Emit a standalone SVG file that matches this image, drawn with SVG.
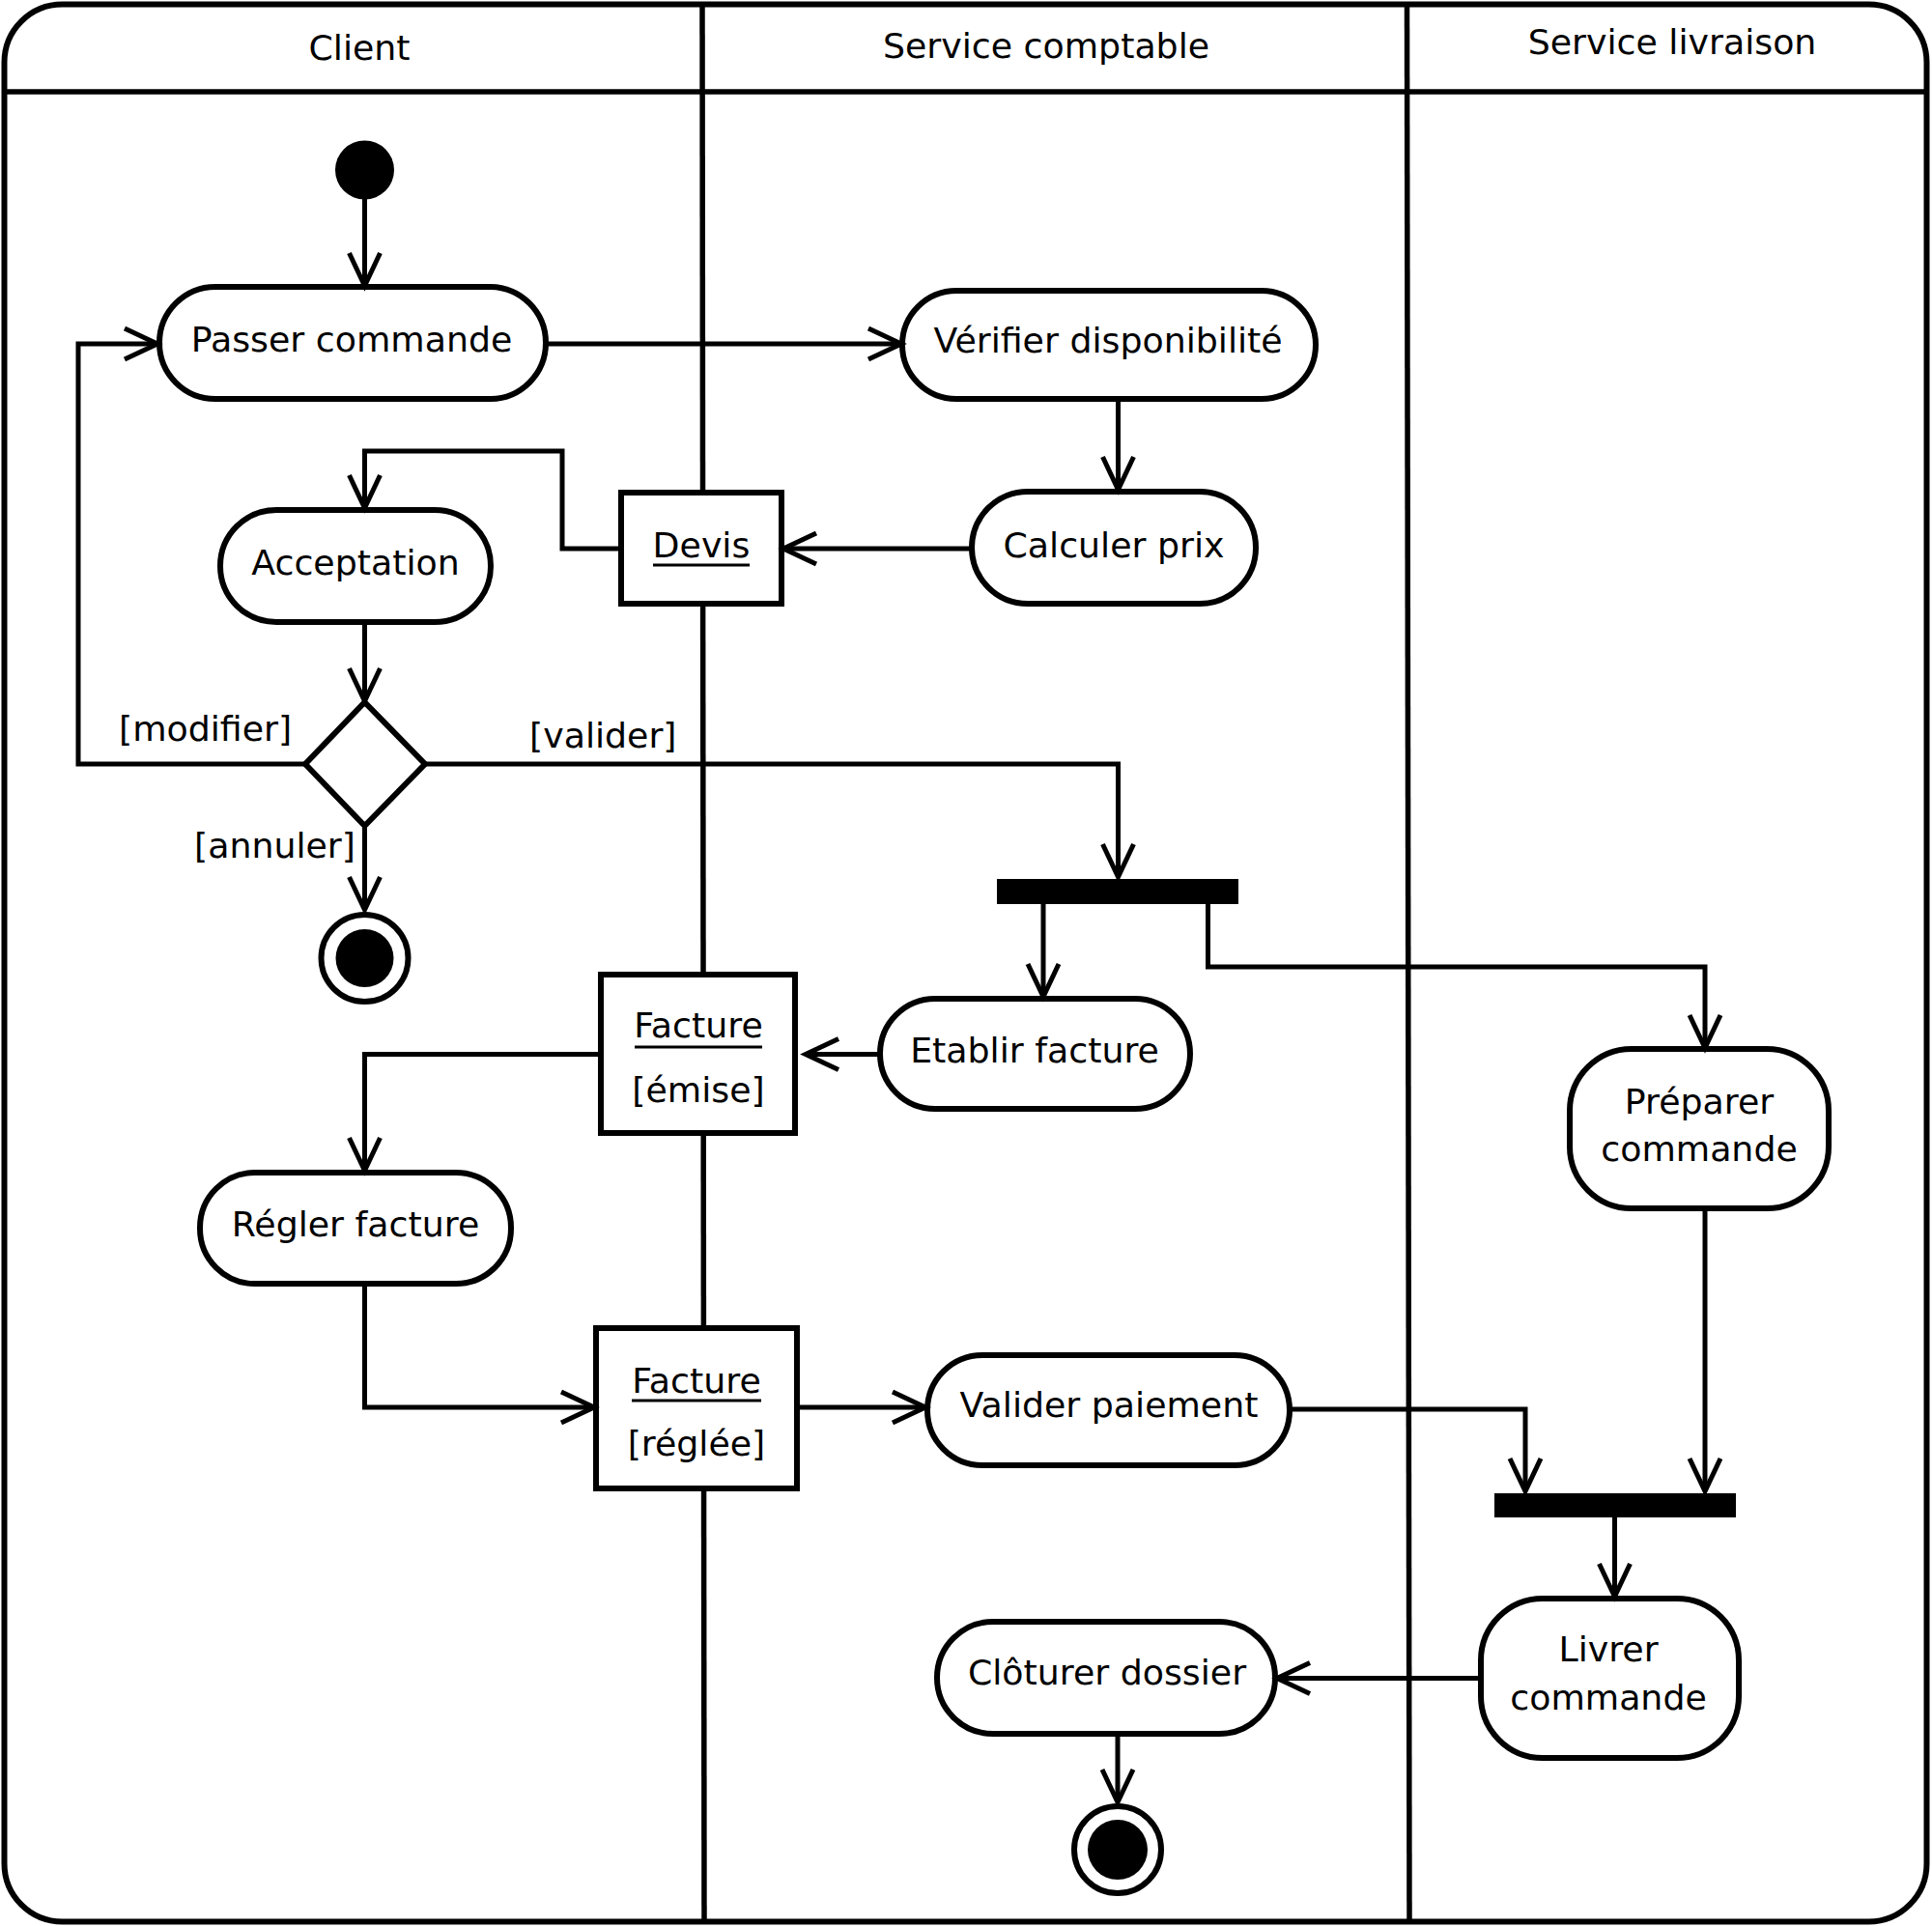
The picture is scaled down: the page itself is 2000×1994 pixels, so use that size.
<svg xmlns="http://www.w3.org/2000/svg" width="2000" height="1994" viewBox="0 0 2000 1994">
<style>
.frame{fill:#fff;stroke:#000;stroke-width:6}
.lane{fill:none;stroke:#000;stroke-width:5.5}
.node{fill:#fff;stroke:#000;stroke-width:6}
.bar{fill:#000;stroke:none}
.dot{fill:#000;stroke:none}
.conn{fill:none;stroke:#000;stroke-width:5}
.ul{stroke:#000;stroke-width:3}
text{font-family:"DejaVu Sans","Liberation Sans",sans-serif;font-size:36.3px;fill:#000}
.c{text-anchor:middle}
</style>
<defs>
<marker id="arr" markerUnits="userSpaceOnUse" orient="auto" refX="0" refY="0" markerWidth="10" markerHeight="10" overflow="visible">
<path d="M-34,-16 L0,0 L-34,16" fill="none" stroke="#000" stroke-width="5"/>
</marker>
</defs>
<g id="frame">
<rect class="frame" x="4.5" y="4.5" width="1990" height="1985" rx="60" ry="60"/>
<line class="lane" x1="5" y1="95" x2="1992" y2="95"/>
<line class="lane" x1="727" y1="4" x2="729" y2="1990"/>
<line class="lane" x1="1456.5" y1="4" x2="1459" y2="1990"/>
<text class="c" x="372" y="62">Client</text>
<text class="c" x="1083" y="60">Service comptable</text>
<text class="c" x="1731" y="56">Service livraison</text>
</g>
<g id="nodes">
<g id="start"><circle class="dot" cx="377.5" cy="176" r="30.5"/></g>
<g id="passer"><rect class="node" x="165" y="297" width="400" height="116" rx="58"/><text class="c" x="364" y="364">Passer commande</text></g>
<g id="verifier"><rect class="node" x="934" y="301" width="428" height="112" rx="56"/><text class="c" x="1147" y="365">Vérifier disponibilité</text></g>
<g id="calculer"><rect class="node" x="1006" y="509" width="294" height="116" rx="58"/><text class="c" x="1153" y="577">Calculer prix</text></g>
<g id="devis"><rect class="node" x="643" y="510" width="166" height="115"/><text class="c" x="726" y="577">Devis</text><line class="ul" x1="676" y1="585" x2="776" y2="585"/></g>
<g id="acceptation"><rect class="node" x="228" y="528" width="280" height="116" rx="58"/><text class="c" x="368" y="595">Acceptation</text></g>
<g id="decision"><polygon class="node" points="377.5,727 440,791 377.5,855 316,791"/></g>
<g id="end1"><circle class="node" cx="377.5" cy="992" r="45"/><circle class="dot" cx="377.5" cy="992" r="30"/></g>
<g id="fork"><rect class="bar" x="1032" y="910" width="250" height="26"/></g>
<g id="etablir"><rect class="node" x="911" y="1034" width="321" height="114" rx="57"/><text class="c" x="1071" y="1100">Etablir facture</text></g>
<g id="facture-emise"><rect class="node" x="622" y="1009" width="201" height="164"/><text class="c" x="723" y="1074">Facture</text><line class="ul" x1="657" y1="1084" x2="789" y2="1084"/><text class="c" x="723" y="1141">[émise]</text></g>
<g id="preparer"><rect class="node" x="1625" y="1086" width="268" height="165" rx="64"/><text class="c" x="1759" y="1153">Préparer</text><text class="c" x="1759" y="1202">commande</text></g>
<g id="regler"><rect class="node" x="207" y="1214" width="322" height="115" rx="57"/><text class="c" x="368" y="1280">Régler facture</text></g>
<g id="facture-reglee"><rect class="node" x="617" y="1375" width="208" height="166"/><text class="c" x="721" y="1442">Facture</text><line class="ul" x1="654" y1="1450" x2="788" y2="1450"/><text class="c" x="721" y="1507">[réglée]</text></g>
<g id="valider"><rect class="node" x="960" y="1403" width="375" height="114" rx="57"/><text class="c" x="1148" y="1467">Valider paiement</text></g>
<g id="join"><rect class="bar" x="1547" y="1546" width="250" height="25"/></g>
<g id="livrer"><rect class="node" x="1533" y="1655" width="267" height="165" rx="64"/><text class="c" x="1665" y="1720">Livrer</text><text class="c" x="1665" y="1770">commande</text></g>
<g id="cloturer"><rect class="node" x="970" y="1679" width="350" height="116" rx="58"/><text class="c" x="1146" y="1744">Clôturer dossier</text></g>
<g id="end2"><circle class="node" cx="1157" cy="1915" r="45"/><circle class="dot" cx="1157" cy="1915" r="31"/></g>
</g>
<g id="connectors">
<path class="conn" marker-end="url(#arr)" d="M377.5,206 V296"/>
<path class="conn" marker-end="url(#arr)" d="M565,356 H933"/>
<path class="conn" marker-end="url(#arr)" d="M1157.5,413 V507"/>
<path class="conn" marker-end="url(#arr)" d="M1006,568 H811"/>
<path class="conn" marker-end="url(#arr)" d="M643,568 H582 V467 H377.5 V526"/>
<path class="conn" marker-end="url(#arr)" d="M377.5,644 V726"/>
<path class="conn" marker-end="url(#arr)" d="M316,791 H81 V356 H163"/>
<path class="conn" marker-end="url(#arr)" d="M440,791 H1157.5 V908"/>
<path class="conn" marker-end="url(#arr)" d="M377.5,855 V942"/>
<path class="conn" marker-end="url(#arr)" d="M1080,936 V1032"/>
<path class="conn" marker-end="url(#arr)" d="M1250.5,936 V1001 H1765 V1085"/>
<path class="conn" marker-end="url(#arr)" d="M911,1091.5 H834"/>
<path class="conn" marker-end="url(#arr)" d="M622,1091.5 H377.5 V1212"/>
<path class="conn" marker-end="url(#arr)" d="M377.5,1329 V1457 H615"/>
<path class="conn" marker-end="url(#arr)" d="M825,1457 H958"/>
<path class="conn" marker-end="url(#arr)" d="M1335,1459 H1579 V1544"/>
<path class="conn" marker-end="url(#arr)" d="M1765,1251 V1544"/>
<path class="conn" marker-end="url(#arr)" d="M1671.5,1571 V1653"/>
<path class="conn" marker-end="url(#arr)" d="M1533,1737.5 H1322"/>
<path class="conn" marker-end="url(#arr)" d="M1157,1795 V1866"/>
<text x="123" y="767">[modifier]</text>
<text x="548" y="774">[valider]</text>
<text x="201" y="888">[annuler]</text>
</g>
</svg>
